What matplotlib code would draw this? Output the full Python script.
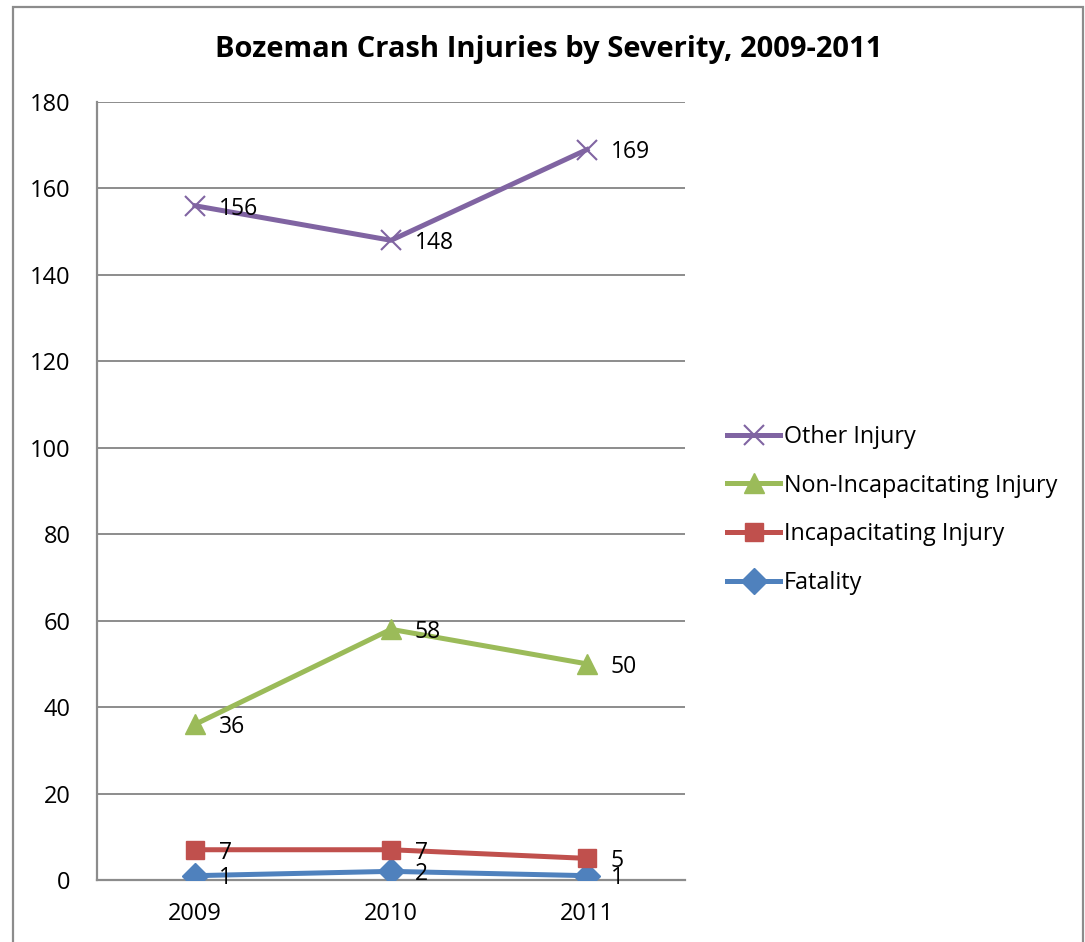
import matplotlib.pyplot as plt
from matplotlib.patches import Rectangle

plt.rcParams['font.family'] = ['Open Sans', 'DejaVu Sans']

years = ['2009', '2010', '2011']
fatality = [1, 2, 1]
incapacitating = [7, 7, 5]
non_incapacitating = [36, 58, 50]
other = [156, 148, 169]

series = [
    ('Fatality', fatality, '#4F81BD', 'D', 13),
    ('Incapacitating Injury', incapacitating, '#C0504D', 's', 13),
    ('Non-Incapacitating Injury', non_incapacitating, '#9BBB59', '^', 15),
    ('Other Injury', other, '#8064A2', 'x', 14),
]

fig = plt.figure(figsize=(10.85, 9.42), dpi=100)
ax = fig.add_axes([97/1085, 1-880/942, 588/1085, 778/942])

x = range(len(years))
handles = []
for name, vals, col, mk, ms in series:
    mew = 1.5 if mk == 'x' else 1
    ln, = ax.plot(x, vals, color=col, lw=3.6, marker=mk, markersize=ms,
                  markeredgewidth=mew, markeredgecolor=col, label=name, zorder=3)
    handles.append(ln)
    for xi, v in zip(x, vals):
        ax.annotate(str(v), (xi, v), xytext=(17, -2), textcoords='offset points',
                    ha='left', va='center', fontsize=16.5, zorder=4)

ax.set_xlim(-0.5, 2.5)
ax.set_ylim(0, 180)
ax.set_yticks(range(0, 181, 20))
ax.set_xticks(list(x))
ax.set_xticklabels(years)
ax.tick_params(length=0, labelsize=17)
ax.tick_params(axis='y', pad=19)
ax.tick_params(axis='x', pad=16)
ax.grid(axis='y', color='#8c8c8c', lw=1.4)
ax.set_axisbelow(True)
for s in ['top', 'right']:
    ax.spines[s].set_visible(False)
for s in ['left', 'bottom']:
    ax.spines[s].set_color('#8c8c8c')
    ax.spines[s].set_linewidth(1.6)

fig.text(549/1085, 1-50/942, 'Bozeman Crash Injuries by Severity, 2009-2011',
         ha='center', va='center', fontsize=21, fontweight='bold')

leg = fig.legend(handles=handles[::-1], loc='center left',
                 bbox_to_anchor=(715/1085, 1-510/942), frameon=False,
                 fontsize=16.8, handlelength=2.3, handletextpad=0.15,
                 labelspacing=1.06, borderpad=0)

fig.patches.append(Rectangle((13/1085, -0.05), 1070/1085, 1.05 - 7/942,
                             transform=fig.transFigure, fill=False,
                             edgecolor='#8c8c8c', lw=1.6))

fig.savefig('out.png', dpi=100)
